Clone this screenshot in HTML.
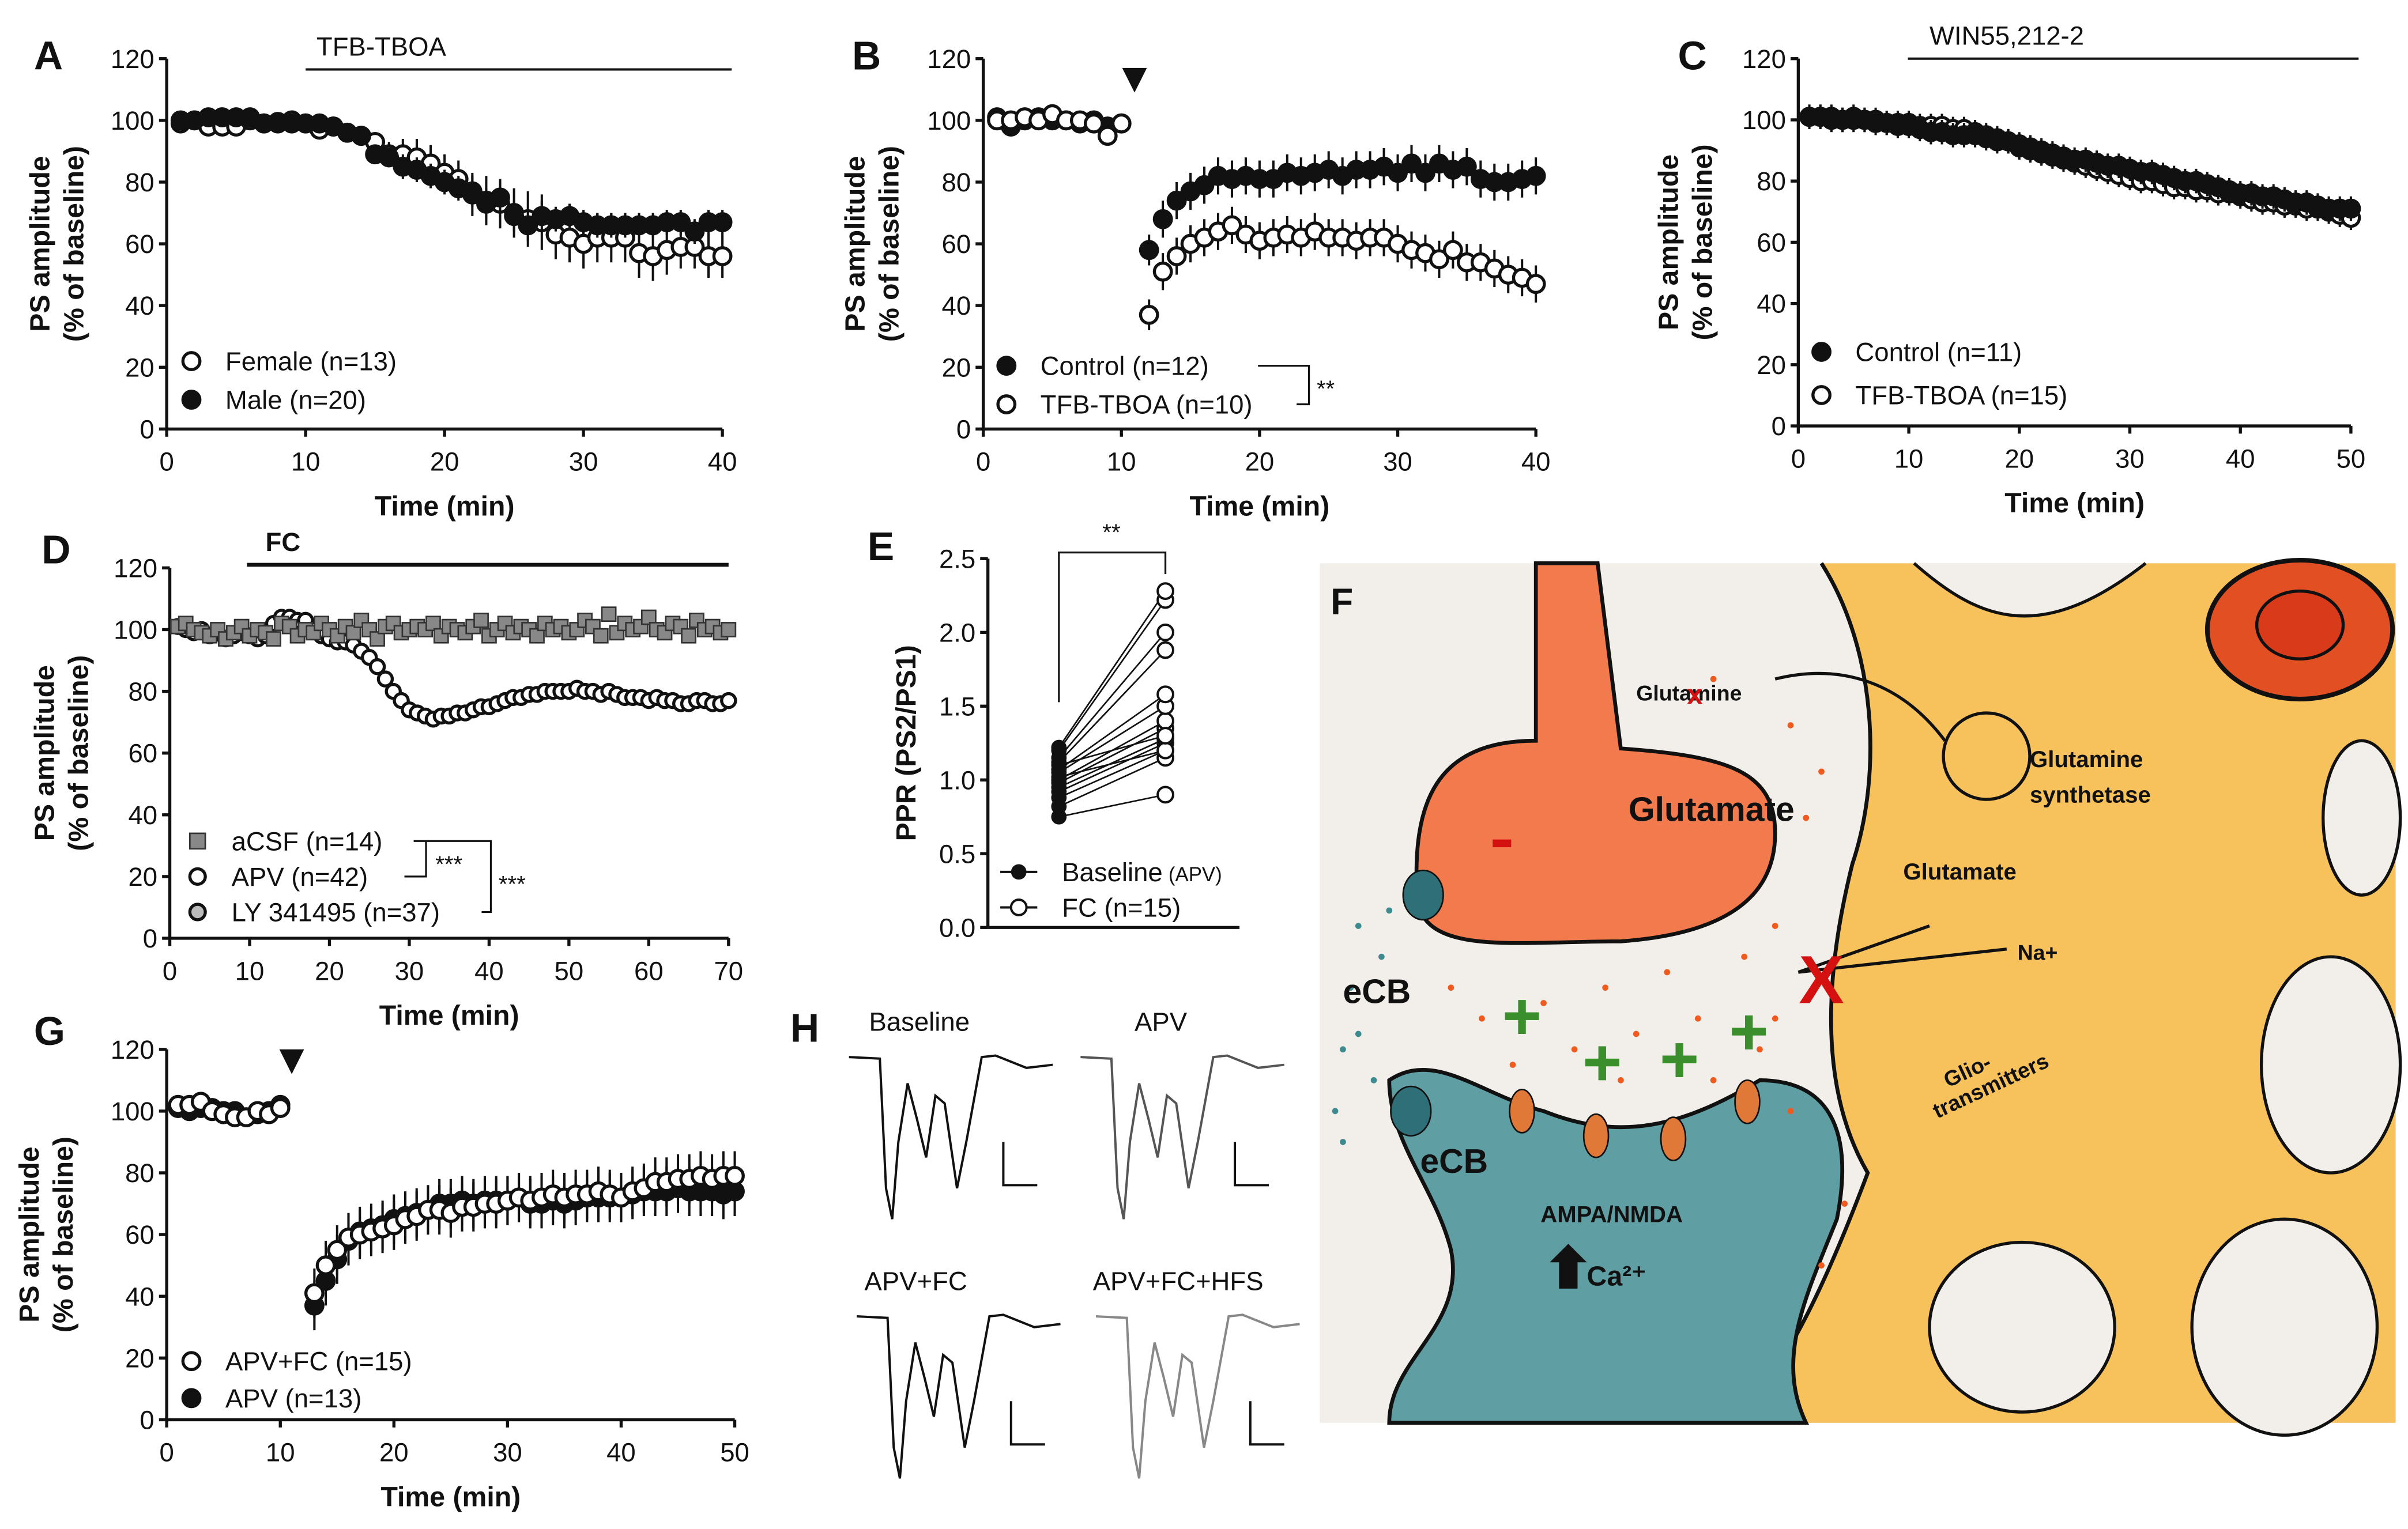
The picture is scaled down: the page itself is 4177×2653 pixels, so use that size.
<!DOCTYPE html>
<html><head><meta charset="utf-8"><style>
html,body{margin:0;padding:0;background:#fff}
svg{display:block}
text{font-family:"Liberation Sans",sans-serif}
</style></head><body>
<svg id="fig" width="4177" height="2653" viewBox="0 0 1560 990.8" preserveAspectRatio="none" xmlns="http://www.w3.org/2000/svg">
<rect x="0" y="0" width="1560" height="991" fill="#fff"/>
<g id="panelF">
  <rect x="855" y="365" width="697" height="557" fill="#f2efea"/>
  <path d="M1180,365 C1215,420 1220,500 1200,560 C1185,620 1175,700 1210,760 C1180,840 1150,900 1120,922 L1552,922 L1552,365 Z" fill="#f7c25c"/>
  <path d="M1180,365 C1215,420 1220,500 1200,560 C1185,620 1175,700 1210,760 C1180,840 1150,900 1120,922" fill="none" stroke="#111" stroke-width="2.5"/>
  <ellipse cx="1310" cy="860" rx="60" ry="55" fill="#f2efea" stroke="#111" stroke-width="2"/>
  <ellipse cx="1480" cy="860" rx="60" ry="70" fill="#f2efea" stroke="#111" stroke-width="2"/>
  <ellipse cx="1510" cy="690" rx="45" ry="70" fill="#f2efea" stroke="#111" stroke-width="2"/>
  <ellipse cx="1530" cy="530" rx="25" ry="50" fill="#f2efea" stroke="#111" stroke-width="2"/>
  <path d="M1240,365 C1280,400 1320,420 1390,365" fill="#f2efea" stroke="#111" stroke-width="2"/>
  <ellipse cx="1490" cy="408" rx="60" ry="45" fill="#e14f22" stroke="#111" stroke-width="3"/>
  <ellipse cx="1490" cy="405" rx="28" ry="22" fill="#d93b1a" stroke="#111" stroke-width="2"/>
  <path d="M995,365 L995,480 C930,480 915,520 918,580 C920,620 980,610 1050,610 C1120,605 1150,580 1150,540 C1150,500 1120,490 1050,485 L1035,365 Z" fill="#f27a4c" stroke="#111" stroke-width="2.5"/>
  <path d="M900,700 C930,680 960,710 1000,720 C1050,740 1090,730 1140,700 C1190,700 1200,740 1190,790 C1170,840 1150,880 1170,922 L900,922 C900,880 950,860 940,810 C930,770 900,740 900,700 Z" fill="#5f9ea3" stroke="#111" stroke-width="2.5"/>
  <g fill="#f05a1e">
    <circle cx="1110" cy="440" r="2"/><circle cx="1160" cy="470" r="2"/><circle cx="1180" cy="500" r="2"/><circle cx="1170" cy="530" r="2"/><circle cx="1150" cy="600" r="2"/><circle cx="1130" cy="620" r="2"/><circle cx="1080" cy="630" r="2"/><circle cx="1040" cy="640" r="2"/><circle cx="1000" cy="650" r="2"/><circle cx="960" cy="660" r="2"/><circle cx="1100" cy="660" r="2"/><circle cx="1060" cy="670" r="2"/><circle cx="1020" cy="680" r="2"/><circle cx="980" cy="690" r="2"/><circle cx="1140" cy="680" r="2"/><circle cx="1160" cy="720" r="2"/><circle cx="1195" cy="780" r="2"/><circle cx="1180" cy="820" r="2"/><circle cx="1150" cy="660" r="2"/><circle cx="940" cy="640" r="2"/><circle cx="1110" cy="700" r="2"/><circle cx="1050" cy="700" r="2"/>
  </g>
  <g fill="#3d8a8f">
    <circle cx="880" cy="600" r="2"/><circle cx="875" cy="640" r="2"/><circle cx="870" cy="680" r="2"/><circle cx="890" cy="700" r="2"/><circle cx="865" cy="720" r="2"/><circle cx="895" cy="620" r="2"/><circle cx="880" cy="670" r="2"/><circle cx="900" cy="590" r="2"/><circle cx="870" cy="740" r="2"/>
  </g>
  <ellipse cx="922" cy="580" rx="13" ry="16" fill="#2f6f78" stroke="#111"/>
  <ellipse cx="914" cy="720" rx="13" ry="16" fill="#2f6f78" stroke="#111"/>
  <g fill="#3a8f2c">
    <rect x="975" y="656" width="22" height="5"/><rect x="983.5" y="648" width="5" height="22"/>
    <rect x="1027" y="686" width="22" height="5"/><rect x="1035.5" y="678" width="5" height="22"/>
    <rect x="1077" y="684" width="22" height="5"/><rect x="1085.5" y="676" width="5" height="22"/>
    <rect x="1122" y="666" width="22" height="5"/><rect x="1130.5" y="658" width="5" height="22"/>
  </g>
  <g fill="#e07838" stroke="#111" stroke-width="1">
    <ellipse cx="986" cy="720" rx="8" ry="14"/><ellipse cx="1034" cy="736" rx="8" ry="14"/><ellipse cx="1084" cy="738" rx="8" ry="14"/><ellipse cx="1132" cy="714" rx="8" ry="14"/>
  </g>
  <circle cx="1287" cy="490" r="28" fill="none" stroke="#111" stroke-width="2"/>
  <path d="M1260,480 C1230,440 1190,430 1150,440 M1165,630 L1300,615 M1165,630 L1250,600" fill="none" stroke="#111" stroke-width="2"/>
  <text x="1180" y="650" font-size="44" font-weight="bold" fill="#d51010" text-anchor="middle">X</text>
  <g font-weight="bold" fill="#111">
    <text x="862" y="398" font-size="24">F</text>
    <text x="1055" y="532" font-size="22">Glutamate</text>
    <text x="1060" y="454" font-size="14">Glutamine</text>
    <text x="1315" y="497" font-size="15">Glutamine</text>
    <text x="1315" y="520" font-size="15">synthetase</text>
    <text x="1233" y="570" font-size="15">Glutamate</text>
    <text x="1307" y="622" font-size="14">Na+</text>
    <text x="1262" y="705" font-size="14" transform="rotate(-25 1262 705)">Glio-</text>
    <text x="1255" y="725" font-size="14" transform="rotate(-25 1255 725)">transmitters</text>
    <text x="870" y="650" font-size="22">eCB</text>
    <text x="920" y="760" font-size="22">eCB</text>
    <text x="998" y="792" font-size="15">AMPA/NMDA</text>
    <text x="1028" y="833" font-size="18">Ca²⁺</text>
  </g>
  <text x="1098" y="456" font-size="18" font-weight="bold" fill="#d51010" text-anchor="middle">x</text>
  <rect x="967" y="544" width="12" height="5" fill="#d51010"/>
  <path d="M1010,835 L1010,818 L1004,818 L1016,806 L1028,818 L1022,818 L1022,835 Z" fill="#111"/>
</g>
<g id="plots"></g>
</svg>
<script>
// ---------- DATA ----------
const tA = Array.from({length:40},(_,i)=>i+1);
const femaleA = [99,100,98,98,98,100,99,99,100,99,97,98,96,95,93,89,89,88,86,83,81,76,74,73,70,68,67,63,62,60,62,62,62,57,56,58,59,59,56,56];
const maleA   = [100,100,101,101,101,101,99,99.5,99,99,99,98,96,95,89,88,85,84,82,80,78,77,73,75,69,66,69,68,69,67,66,66,66,66,66,67,67,64,67,67];
const femaleAerr = [1,1,1,1,1,1,1,1,1,1,1,1,2,2,3,4,5,6,6,6,6,7,8,8,8,9,9,8,8,8,8,8,8,8,8,8,7,7,7,7];
const maleAerr   = [1,1,1,1,1,1,1,1,1,1,1,1,2,2,3,3,4,4,4,4,4,5,5,5,5,5,5,4,4,4,4,4,4,4,4,4,4,4,4,4];

const tB = Array.from({length:40},(_,i)=>i+1);
const controlB = [101,98,100,101,100,100,99,100,98,99,null,58,68,74,77,79,82,81,82,81,81,83,82,83,84,82,84,84,85,83,86,83,86,84,85,81,80,80,81,82];
const tboaB    = [100,100,101,100,102,100,100,99,95,99,null,37,51,56,60,62,64,66,63,61,62,63,62,64,62,62,61,62,62,60,58,57,55,58,54,54,52,50,49,47];
const errB = [2,2,2,2,2,2,2,2,2,2,null,5,6,6,6,6,6,6,6,6,6,6,6,6,6,6,6,6,6,6,6,6,6,6,6,6,6,6,6,6];

const tC = Array.from({length:50},(_,i)=>i+1);
const controlC = [101,101,100,100,101,100,99,99,98,98,97,96,96,95,95,95,94,93,93,92,91,90,89,88,87,87,86,85,85,84,83,83,82,81,80,80,79,78,77,76,76,75,75,74,73,73,72,71,71,71];
const tboaC    = [101,101,101,100,100,100,100,99,99,99,98,98,98,97,97,96,95,94,93,91,90,89,88,87,86,85,84,83,82,81,80,80,79,78,78,77,77,76,76,75,74,73,73,72,72,71,71,70,69,68];
const errC = tC.map(()=>4);

const tD = Array.from({length:70},(_,i)=>i+1);
const acsfD = [101,102,100,99,98,100,97,99,101,98,100,99,97,102,101,98,100,99,102,100,98,101,99,103,100,97,101,102,99,100,101,100,102,98,101,100,99,101,103,98,100,102,99,101,100,98,102,100,101,99,100,103,101,98,105,99,102,100,101,104,100,99,102,101,98,103,100,101,99,100];
const apvD  = [101,100,99,100,98,99,97,98,99,98,97,98,102,104,104,103,103,100,98,97,96,96,95,93,91,88,84,80,77,74,73,72,71,72,72,73,73,74,75,75,76,77,78,78,79,79,80,80,80,80,81,80,80,79,80,79,78,78,78,77,78,77,77,76,76,77,77,76,76,77];

const tG = Array.from({length:50},(_,i)=>i+1);
const apvfcG = [102,102,103,100,99,98,98,100,99,101,null,null,41,50,55,59,60,61,62,63,65,66,68,68,67,69,69,70,70,71,72,71,72,73,72,73,73,74,73,72,74,75,77,77,78,78,79,78,79,79];
const apvG   = [101,100,101,101,100,100,98,99,100,102,null,null,37,45,52,58,61,62,63,65,66,67,68,70,70,71,70,71,71,71,72,70,70,71,70,71,72,72,72,72,73,74,74,74,75,74,74,74,73,74];
const errG = tG.map(v=> v<11 ? 2 : 8);

const baselineE = [0.75,0.82,0.88,0.92,0.95,0.98,1.0,1.02,1.05,1.07,1.1,1.12,1.15,1.2,1.22];
const fcE       = [0.9,1.15,1.2,1.25,1.28,1.35,1.4,1.2,1.5,1.58,1.3,1.88,2.0,2.22,2.28];

// ---------- DRAWING ----------
const NS="http://www.w3.org/2000/svg";
const root=document.getElementById('plots');
function el(tag,attrs,parent,txt){const e=document.createElementNS(NS,tag);for(const k in attrs)e.setAttribute(k,attrs[k]);if(txt!==undefined)e.textContent=txt;(parent||root).appendChild(e);return e;}

function axes(p){
  const g=el('g',{});
  
  
  const sx=v=>p.x0+(v-p.xmin)/(p.xmax-p.xmin)*(p.x1-p.x0);
  const sy=v=>p.y0-(v-p.ymin)/(p.ymax-p.ymin)*(p.y0-p.y1);
  el('line',{x1:p.x0,y1:p.y0,x2:p.x0,y2:p.y1,stroke:'#111','stroke-width':2},g);
  el('line',{x1:p.x0,y1:p.y0,x2:p.x1,y2:p.y0,stroke:'#111','stroke-width':2},g);
  p.yt.forEach(v=>{el('line',{x1:p.x0-5,x2:p.x0,y1:sy(v),y2:sy(v),stroke:'#111','stroke-width':2},g);
    const t=el('text',{x:p.x0-8,y:sy(v)+6,'font-size':17,'text-anchor':'end',fill:'#111'},g,p.ylab?p.ylab(v):v);
    });
  (p.xt||[]).forEach(v=>{el('line',{x1:sx(v),x2:sx(v),y1:p.y0,y2:p.y0+5,stroke:'#111','stroke-width':2},g);
    const t=el('text',{x:sx(v),y:p.y0+27,'font-size':17,'text-anchor':'middle',fill:'#111'},g,v);
    });
  if(p.xtitle){const t=el('text',{x:(p.x0+p.x1)/2,y:p.y0+56,'font-size':18,'font-weight':'bold','text-anchor':'middle',fill:'#111'},g,p.xtitle);
    }
  const cy=(p.y0+p.y1)/2;
  p.ytitle.forEach((s,i)=>{const x=p.ytx+i*22;const t=el('text',{x:x,y:cy,'font-size':18,'font-weight':'bold','text-anchor':'middle',fill:'#111',transform:`rotate(-90 ${x} ${cy})`},g,s);
    });
  const L=el('text',{x:p.lx,y:p.ly,'font-size':26,'font-weight':'bold',fill:'#111'},g,p.letter);
  
  return {sx,sy};
}
function series(s,ax,xs,ys,errs,style,r,name){
  const g=el('g',{});
  
  
  xs.forEach((x,i)=>{const y=ys[i];if(y==null)return;
    if(errs&&errs[i]){const e=el('line',{x1:ax.sx(x),x2:ax.sx(x),y1:ax.sy(y-errs[i]),y2:ax.sy(y+errs[i]),stroke:'#111','stroke-width':1.5},g);
      }});
  xs.forEach((x,i)=>{const y=ys[i];if(y==null)return;let m;
    if(style==='sq'){m=el('rect',{x:ax.sx(x)-r,y:ax.sy(y)-r,width:2*r,height:2*r,fill:'#888',stroke:'#333','stroke-width':1},g);}
    else m=el('circle',{cx:ax.sx(x),cy:ax.sy(y),r:r,fill:style==='filled'?'#111':'#fff',stroke:'#111','stroke-width':2},g);
    });
}
function legend(x,y,style,label,r){
  const g=el('g',{});
  
  
  if(style==='sq')el('rect',{x:x-r,y:y-r,width:2*r,height:2*r,fill:'#888',stroke:'#333'},g);
  else el('circle',{cx:x,cy:y,r:r,fill:style==='filled'?'#111':(style==='gray'?'#bbb':'#fff'),stroke:'#111','stroke-width':2},g);
  el('text',{x:x+22,y:y+6,'font-size':17,fill:'#111'},g,label);
}
function bar(x1,x2,y,label,lx,bold){
  el('line',{x1,x2,y1:y,y2:y,stroke:'#111','stroke-width':bold?2.5:1.5});
  const t=el('text',{x:lx,y:y-9,'font-size':17,'font-weight':bold?'bold':'normal',fill:'#111'},root,label);
  
}
const Y=[0,20,40,60,80,100,120];
// A
let a=axes({name:'panel-a',x0:108,x1:468,xmin:0,xmax:40,y0:278,y1:38,ymin:0,ymax:120,yt:Y,xt:[0,10,20,30,40],xtitle:'Time (min)',ytitle:['PS amplitude','(% of baseline)'],ytx:32,letter:'A',lx:22,ly:45});
bar(198,474,45,'TFB-TBOA',205);
series(root,a,tA,femaleA,femaleAerr,'open',5.5,'series-female');
series(root,a,tA,maleA,maleAerr,'filled',5.5,'series-male');
legend(124,234,'open','Female (n=13)',5.5);legend(124,259,'filled','Male (n=20)',5.5);
// B
let b=axes({name:'panel-b',x0:637,x1:995,xmin:0,xmax:40,y0:278,y1:38,ymin:0,ymax:120,yt:Y,xt:[0,10,20,30,40],xtitle:'Time (min)',ytitle:['PS amplitude','(% of baseline)'],ytx:560,letter:'B',lx:552,ly:45});
el('path',{d:'M727,44 L743,44 L735,60 Z',fill:'#111'});
series(root,b,tB,controlB,errB,'filled',5.5,'series-control');
series(root,b,tB,tboaB,errB,'open',5.5,'series-tfb-tboa');
legend(652,237,'filled','Control (n=12)',5.5);legend(652,262,'open','TFB-TBOA (n=10)',5.5);
el('path',{d:'M815,237 L848,237 L848,262 L840,262',fill:'none',stroke:'#111','stroke-width':1.2});
el('text',{x:853,y:257,'font-size':15,fill:'#111'},root,'**');
// C
let c=axes({name:'panel-c',x0:1165,x1:1523,xmin:0,xmax:50,y0:276,y1:38,ymin:0,ymax:120,yt:Y,xt:[0,10,20,30,40,50],xtitle:'Time (min)',ytitle:['PS amplitude','(% of baseline)'],ytx:1087,letter:'C',lx:1087,ly:45});
bar(1236,1528,38,'WIN55,212-2',1250);
series(root,c,tC,tboaC,errC,'open',5.5,'series-c-tfb-tboa');
series(root,c,tC,controlC,errC,'filled',5.5,'series-c-control');
legend(1180,228,'filled','Control (n=11)',5.5);legend(1180,256,'open','TFB-TBOA (n=15)',5.5);
// D
let d=axes({name:'panel-d',x0:110,x1:472,xmin:0,xmax:70,y0:608,y1:368,ymin:0,ymax:120,yt:Y,xt:[0,10,20,30,40,50,60,70],xtitle:'Time (min)',ytitle:['PS amplitude','(% of baseline)'],ytx:35,letter:'D',lx:27,ly:365});
bar(160,472,366,'FC',172,true);
series(root,d,tD,apvD,null,'open',4.5,'series-apv');
series(root,d,tD,acsfD,null,'sq',4.5,'series-acsf');
legend(128,545,'sq','aCSF (n=14)',5);legend(128,568,'open','APV (n=42)',5);legend(128,591,'gray','LY 341495 (n=37)',5);
el('path',{d:'M268,545 L276,545 L276,568 L262,568 M268,545 L318,545 L318,591 L312,591',fill:'none',stroke:'#111','stroke-width':1.2});
el('text',{x:282,y:565,'font-size':15,fill:'#111'},root,'***');
el('text',{x:323,y:578,'font-size':15,fill:'#111'},root,'***');
// G
let gg=axes({name:'panel-g',x0:108,x1:476,xmin:0,xmax:50,y0:920,y1:680,ymin:0,ymax:120,yt:Y,xt:[0,10,20,30,40,50],xtitle:'Time (min)',ytitle:['PS amplitude','(% of baseline)'],ytx:25,letter:'G',lx:22,ly:677});
el('path',{d:'M181,680 L197,680 L189,696 Z',fill:'#111'});
series(root,gg,tG,apvG,errG,'filled',5.5,'series-apv-g');
series(root,gg,tG,apvfcG,errG,'open',5.5,'series-apv-fc');
legend(124,882,'open','APV+FC (n=15)',5.5);legend(124,906,'filled','APV (n=13)',5.5);
// E
let e=axes({name:'panel-e',x0:640,x1:803,xmin:0,xmax:1,y0:601,y1:362,ymin:0,ymax:2.5,yt:[0,0.5,1,1.5,2,2.5],ylab:v=>v.toFixed(1),xt:[],ytitle:['PPR (PS2/PS1)'],ytx:593,letter:'E',lx:562,ly:363});
const xb=686,xf=755;
baselineE.forEach((v,i)=>{const l=el('line',{x1:xb,x2:xf,y1:e.sy(v),y2:e.sy(fcE[i]),stroke:'#111','stroke-width':1});});
baselineE.forEach(v=>{const m=el('circle',{cx:xb,cy:e.sy(v),r:5,fill:'#111'});});
fcE.forEach(v=>{const m=el('circle',{cx:xf,cy:e.sy(v),r:5,fill:'#fff',stroke:'#111','stroke-width':1.5});});
el('path',{d:'M686,455 L686,358 L755,358 L755,372',fill:'none',stroke:'#111','stroke-width':1.2});
el('text',{x:720,y:350,'font-size':15,'text-anchor':'middle',fill:'#111'},root,'**');
el('line',{x1:648,x2:672,y1:565,y2:565,stroke:'#111','stroke-width':1.5});el('circle',{cx:660,cy:565,r:5,fill:'#111'});
el('text',{x:688,y:571,'font-size':17,fill:'#111'},root,'Baseline');el('text',{x:757,y:571,'font-size':13,fill:'#111'},root,'(APV)');
el('line',{x1:648,x2:672,y1:588,y2:588,stroke:'#111','stroke-width':1.5});el('circle',{cx:660,cy:588,r:5,fill:'#fff',stroke:'#111','stroke-width':1.5});
el('text',{x:688,y:594,'font-size':17,fill:'#111'},root,'FC (n=15)');
// H traces
el('text',{x:512,y:675,'font-size':26,'font-weight':'bold',fill:'#111'},root,'H');
function trace(ox,oy,col,label,lx){
  const g=el('g',{});
  
  
  el('text',{x:lx,y:oy-12,'font-size':17,fill:'#111'},g,label);
  el('path',{d:`M${ox},${oy+5} L${ox+20},${oy+6} L${ox+24},${oy+90} L${ox+28},${oy+110} L${ox+32},${oy+60} L${ox+38},${oy+22} L${ox+44},${oy+45} L${ox+50},${oy+70} L${ox+56},${oy+30} L${ox+62},${oy+35} L${ox+70},${oy+90} L${ox+76},${oy+60} L${ox+86},${oy+5} L${ox+95},${oy+4} L${ox+115},${oy+12} L${ox+132},${oy+10}`,fill:'none',stroke:col,'stroke-width':1.5},g);
  el('path',{d:`M${ox+100},${oy+60} L${ox+100},${oy+88} L${ox+122},${oy+88}`,fill:'none',stroke:'#111','stroke-width':1.5},g);
}
trace(550,680,'#111','Baseline',563);
trace(700,680,'#555','APV',735);
trace(555,848,'#111','APV+FC',560);
trace(710,848,'#888','APV+FC+HFS',708);
</script>
</body></html>
